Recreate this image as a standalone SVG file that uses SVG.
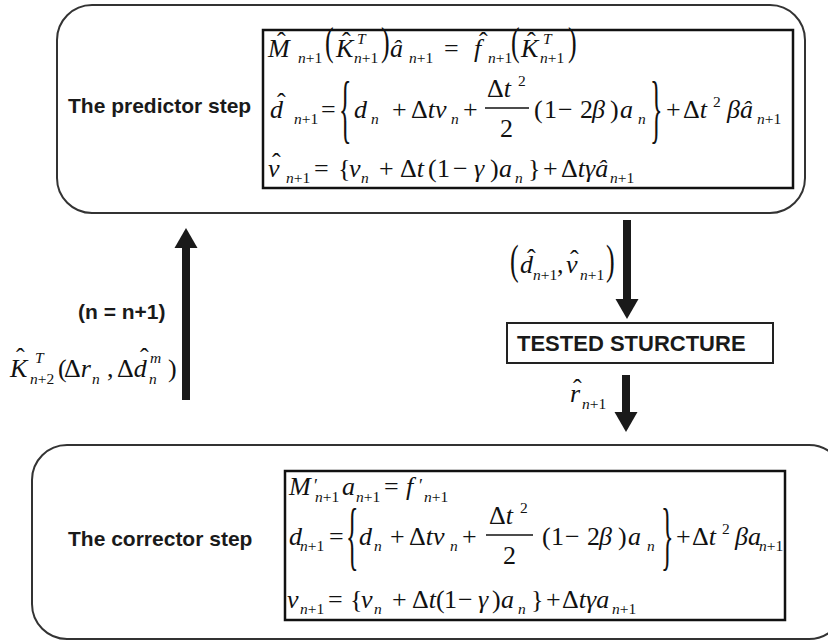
<svg xmlns="http://www.w3.org/2000/svg" width="828" height="643" viewBox="0 0 828 643">
<style>
.outer{fill:none;stroke:#333;stroke-width:2}
.inner{fill:#fff;stroke:#111;stroke-width:2.5}
.box{fill:#fff;stroke:#222;stroke-width:2}
.lbl{font-family:"Liberation Sans",Arial,Helvetica,sans-serif;font-weight:bold;font-size:21px;fill:#1a1a1a}
.eq{font-family:"Liberation Serif","Times New Roman",serif;font-size:26px;fill:#111}
.i{font-style:italic}
.s{font-size:15.5px}
.si{font-size:15.5px;font-style:italic}
.pr{font-size:18px}
.bar{stroke:#111;stroke-width:1.3}
.shaft{stroke:#1a1a1a;stroke-width:8;fill:none;marker-end:url(#ah)}
</style>
<defs>
<marker id="ah" markerUnits="userSpaceOnUse" viewBox="0 -12 21 24" refX="1" refY="0" markerWidth="21" markerHeight="24" orient="auto">
<path d="M0,-11.5 L20,0 L0,11.5 Z" fill="#1a1a1a"/>
</marker>
</defs>

<g id="predictor">
<rect class="outer" x="57" y="5" width="748" height="208" rx="35" ry="35"/>
<text class="lbl" x="68" y="113">The predictor step</text>
<g id="predictor-equations">
<rect class="inner" x="263" y="30" width="530" height="158"/>
<text class="eq">
<tspan class="i" x="268" y="57">M</tspan><tspan x="277" y="50">ˆ</tspan>
<tspan class="si" x="298" y="63">n</tspan><tspan class="s">+1</tspan>
<tspan class="i" x="336" y="57">K</tspan><tspan x="342" y="50">ˆ</tspan>
<tspan class="si" x="357" y="44">T</tspan>
<tspan class="si" x="354" y="63">n</tspan><tspan class="s">+1</tspan>
<tspan class="i" x="390" y="57">â</tspan>
<tspan class="si" x="409" y="63">n</tspan><tspan class="s">+1</tspan>
<tspan x="444" y="57">=</tspan>
<tspan class="i" x="474" y="57">f</tspan><tspan x="479" y="50">ˆ</tspan>
<tspan class="si" x="488" y="63">n</tspan><tspan class="s">+1</tspan>
<tspan class="i" x="521" y="57">K</tspan><tspan x="527" y="50">ˆ</tspan>
<tspan class="si" x="543" y="44">T</tspan>
<tspan class="si" x="540" y="63">n</tspan><tspan class="s">+1</tspan>
</text>
<text class="eq" transform="translate(325 54.7) scale(1 1.5)">(</text>
<text class="eq" transform="translate(381 54.7) scale(1 1.5)">)</text>
<text class="eq" transform="translate(511 54.7) scale(1 1.5)">(</text>
<text class="eq" transform="translate(568 54.7) scale(1 1.5)">)</text>

<text class="eq">
<tspan class="i" x="270" y="118">d</tspan><tspan x="277" y="111">ˆ</tspan>
<tspan class="si" x="294" y="124">n</tspan><tspan class="s">+1</tspan>
<tspan x="321" y="118">=</tspan>
<tspan class="i" x="354" y="118">d</tspan>
<tspan class="si" x="371" y="124">n</tspan>
<tspan x="392" y="118">+</tspan>
<tspan x="411" y="118">Δ</tspan><tspan class="i">tv</tspan>
<tspan class="si" x="451" y="124">n</tspan>
<tspan x="463" y="118">+</tspan>
<tspan x="487" y="97">Δ</tspan><tspan class="i">t</tspan>
<tspan class="s" x="518" y="86">2</tspan>
<tspan x="500" y="137">2</tspan>
<tspan x="534" y="118">(</tspan>
<tspan x="544" y="118">1</tspan>
<tspan x="558" y="118">−</tspan>
<tspan x="580" y="118">2</tspan>
<tspan class="i" x="592" y="118">β</tspan>
<tspan x="610" y="118">)</tspan>
<tspan class="i" x="620" y="118">a</tspan>
<tspan class="si" x="638" y="124">n</tspan>
<tspan x="666" y="118">+</tspan>
<tspan x="683" y="118">Δ</tspan><tspan class="i">t</tspan>
<tspan class="s" x="713" y="107">2</tspan>
<tspan class="i" x="727" y="118">βâ</tspan>
<tspan class="si" x="757" y="124">n</tspan><tspan class="s">+1</tspan>
</text>
<line class="bar" x1="485" y1="108" x2="529" y2="108"/>
<text class="eq" transform="translate(339 133.9) scale(1 2.9)">{</text>
<text class="eq" transform="translate(650 133.9) scale(1 2.9)">}</text>

<text class="eq">
<tspan class="i" x="268" y="177">v</tspan><tspan x="272" y="171">ˆ</tspan>
<tspan class="si" x="286" y="183">n</tspan><tspan class="s">+1</tspan>
<tspan x="314" y="177">=</tspan>
<tspan x="338" y="177">{</tspan>
<tspan class="i" x="349" y="177">v</tspan>
<tspan class="si" x="361" y="183">n</tspan>
<tspan x="379" y="177">+</tspan>
<tspan x="400" y="177">Δ</tspan><tspan class="i">t</tspan>
<tspan x="428" y="177">(</tspan>
<tspan x="437" y="177">1</tspan>
<tspan x="453" y="177">−</tspan>
<tspan class="i" x="474" y="177">γ</tspan>
<tspan x="490" y="177">)</tspan>
<tspan class="i" x="499" y="177">a</tspan>
<tspan class="si" x="515" y="183">n</tspan>
<tspan x="528" y="177">}</tspan>
<tspan x="543" y="177">+</tspan>
<tspan x="561" y="177">Δ</tspan><tspan class="i">tγâ</tspan>
<tspan class="si" x="610" y="183">n</tspan><tspan class="s">+1</tspan>
</text>
</g>
</g>

<g id="corrector">
<rect class="outer" x="32" y="445" width="812" height="194" rx="35" ry="35"/>
<text class="lbl" x="68" y="546">The corrector step</text>
<g id="corrector-equations">
<rect class="inner" x="285" y="471" width="500" height="149"/>
<text class="eq">
<tspan class="i" x="289" y="495">M</tspan>
<tspan class="pr" x="314" y="492">′</tspan>
<tspan class="si" x="315" y="502">n</tspan><tspan class="s">+1</tspan>
<tspan class="i" x="342" y="495">a</tspan>
<tspan class="si" x="356" y="502">n</tspan><tspan class="s">+1</tspan>
<tspan x="384" y="495">=</tspan>
<tspan class="i" x="406" y="495">f</tspan>
<tspan class="pr" x="419" y="492">′</tspan>
<tspan class="si" x="424" y="502">n</tspan><tspan class="s">+1</tspan>
</text>

<text class="eq">
<tspan class="i" x="289" y="545">d</tspan>
<tspan class="si" x="300" y="551">n</tspan><tspan class="s">+1</tspan>
<tspan x="329" y="545">=</tspan>
<tspan class="i" x="359" y="545">d</tspan>
<tspan class="si" x="374" y="551">n</tspan>
<tspan x="390" y="545">+</tspan>
<tspan x="409" y="545">Δ</tspan><tspan class="i">tv</tspan>
<tspan class="si" x="450" y="551">n</tspan>
<tspan x="462" y="545">+</tspan>
<tspan x="489" y="524">Δ</tspan><tspan class="i">t</tspan>
<tspan class="s" x="520" y="513">2</tspan>
<tspan x="503" y="564">2</tspan>
<tspan x="542" y="545">(</tspan>
<tspan x="551" y="545">1</tspan>
<tspan x="565" y="545">−</tspan>
<tspan x="587" y="545">2</tspan>
<tspan class="i" x="599" y="545">β</tspan>
<tspan x="618" y="545">)</tspan>
<tspan class="i" x="628" y="545">a</tspan>
<tspan class="si" x="647" y="551">n</tspan>
<tspan x="676" y="545">+</tspan>
<tspan x="692" y="545">Δ</tspan><tspan class="i">t</tspan>
<tspan class="s" x="722" y="534">2</tspan>
<tspan class="i" x="735" y="545">βa</tspan>
<tspan class="si" x="759" y="551">n</tspan><tspan class="s">+1</tspan>
</text>
<line class="bar" x1="486" y1="535" x2="533" y2="535"/>
<text class="eq" transform="translate(346 560.9) scale(1 2.9)">{</text>
<text class="eq" transform="translate(661 560.9) scale(1 2.9)">}</text>

<text class="eq">
<tspan class="i" x="287" y="608">v</tspan>
<tspan class="si" x="300" y="614">n</tspan><tspan class="s">+1</tspan>
<tspan x="328" y="608">=</tspan>
<tspan x="350" y="608">{</tspan>
<tspan class="i" x="361" y="608">v</tspan>
<tspan class="si" x="374" y="614">n</tspan>
<tspan x="392" y="608">+</tspan>
<tspan x="412" y="608">Δ</tspan><tspan class="i">t</tspan>
<tspan x="436" y="608">(</tspan>
<tspan x="444" y="608">1</tspan>
<tspan x="458" y="608">−</tspan>
<tspan class="i" x="478" y="608">γ</tspan>
<tspan x="492" y="608">)</tspan>
<tspan class="i" x="501" y="608">a</tspan>
<tspan class="si" x="518" y="614">n</tspan>
<tspan x="531" y="608">}</tspan>
<tspan x="546" y="608">+</tspan>
<tspan x="562" y="608">Δ</tspan><tspan class="i">tγa</tspan>
<tspan class="si" x="612" y="614">n</tspan><tspan class="s">+1</tspan>
</text>
</g>
</g>

<g id="tested">
<rect class="box" x="507" y="323" width="266" height="40"/>
<text class="lbl" x="517" y="351" style="font-size:22px">TESTED STURCTURE</text>
</g>

<g id="connectors">
<line class="shaft" x1="186" y1="400" x2="186" y2="247"/>
<line class="shaft" x1="627" y1="220" x2="627" y2="300"/>
<line class="shaft" x1="626" y1="375" x2="626" y2="413"/>
</g>

<g id="connector-labels">
<text class="lbl" x="78" y="319">(n = n+1)</text>
<text class="eq">
<tspan class="i" x="10" y="377">K</tspan><tspan x="16" y="366">ˆ</tspan>
<tspan class="si" x="35" y="363">T</tspan>
<tspan class="si" x="30" y="384">n</tspan><tspan class="s">+2</tspan>
<tspan x="58" y="377">(</tspan>
<tspan x="64" y="377">Δ</tspan><tspan class="i">r</tspan>
<tspan class="si" x="92" y="384">n</tspan>
<tspan x="107" y="377">,</tspan>
<tspan x="117" y="377">Δ</tspan><tspan class="i">d</tspan><tspan x="140" y="366">ˆ</tspan>
<tspan class="si" x="150" y="363">m</tspan>
<tspan class="si" x="149" y="384">n</tspan>
<tspan x="168" y="377">)</tspan>
</text>
<text class="eq">
<tspan class="i" x="520" y="273">d</tspan><tspan x="527" y="267">ˆ</tspan>
<tspan class="si" x="533" y="280">n</tspan><tspan class="s">+1</tspan>
<tspan x="557" y="273">,</tspan>
<tspan class="i" x="566" y="273">v</tspan><tspan x="570" y="268">ˆ</tspan>
<tspan class="si" x="580" y="280">n</tspan><tspan class="s">+1</tspan>
</text>
<text class="eq" transform="translate(510 273.5) scale(1 1.65)">(</text>
<text class="eq" transform="translate(606 273.5) scale(1 1.65)">)</text>
<text class="eq">
<tspan class="i" x="570" y="402">r</tspan><tspan x="573" y="397">ˆ</tspan>
<tspan class="si" x="582" y="409">n</tspan><tspan class="s">+1</tspan>
</text>
</g>
</svg>
